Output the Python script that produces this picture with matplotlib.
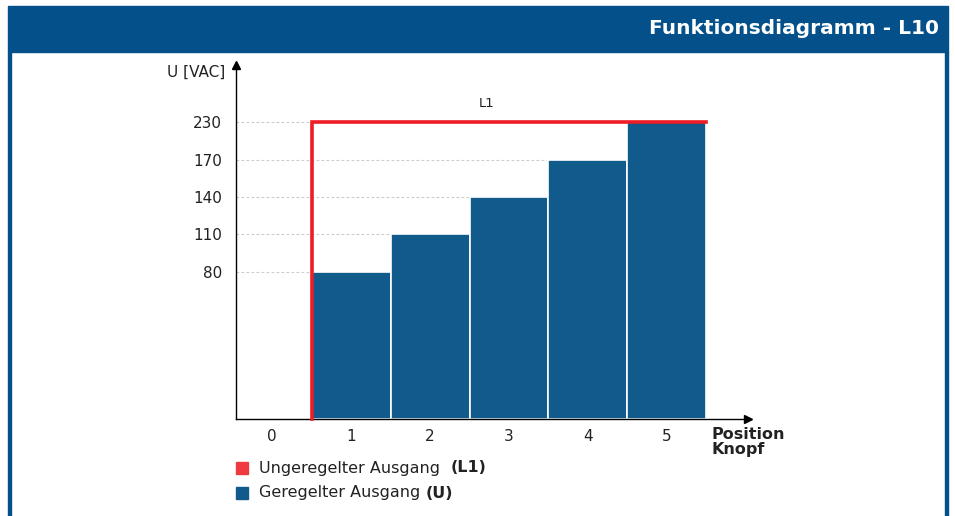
import numpy as np
import matplotlib
matplotlib.use("Agg")
import matplotlib.pyplot as plt
from matplotlib.patches import Rectangle

# Daten
positions = [0, 1, 2, 3, 4, 5]
pos_labels = ["0", "1", "2", "3", "4", "5"]
geregelt = [0, 80, 110, 140, 170, 230]      # U
ungeregelt = [0, 230, 230, 230, 230, 230]   # L1
y_ticks = [80, 110, 140, 170, 230]

blau_header = "#03508a"
blau_balken = "#115b8c"
rot = "#ee1c25"
rot_legende = "#ef3a40"
text_col = "#222222"

W, H = 955, 516
fig = plt.figure(figsize=(W / 100, H / 100), dpi=100)
fig.patch.set_facecolor("white")

def fx(px):
    return px / W

def fy(py):
    return 1 - py / H

# Rahmen + Kopfzeile
fig.patches.append(Rectangle((fx(8), fy(52)), fx(948) - fx(8), fy(6) - fy(52),
                             transform=fig.transFigure, color=blau_header, zorder=0))
fig.patches.append(Rectangle((fx(8), 0), fx(3), fy(52), transform=fig.transFigure,
                             color=blau_header, zorder=0))
fig.patches.append(Rectangle((fx(945), 0), fx(3), fy(52), transform=fig.transFigure,
                             color=blau_header, zorder=0))
fig.text(fx(939), fy(29), "Funktionsdiagramm - L10", color="white", fontsize=14.5,
         fontweight="bold", ha="right", va="center")

# Achsen
ax = fig.add_axes([fx(236), fy(419), fx(748) - fx(236), fy(65) - fy(419)])

# schematische y-Skala: Ticks gleichmaessig ab 80
skala_werte = [0, 80, 110, 140, 170, 230, 290]
skala_pos = [0, 147, 185, 222, 259, 297, 354]

def vorwaerts(v):
    return np.interp(v, skala_werte, skala_pos)

def rueckwaerts(p):
    return np.interp(p, skala_pos, skala_werte)

ax.set_yscale("function", functions=(vorwaerts, rueckwaerts))
ax.set_ylim(0, 290)
ax.set_xlim(-0.46, 6.03)

# Hilfslinien
ax.hlines(y_ticks, -0.46, 5.5, colors="#cccccc", linestyles=(0, (2.5, 2)), linewidth=0.8, zorder=1)

# geregelter Ausgang (Balken)
ax.bar(positions[1:], geregelt[1:], width=1.0, color=blau_balken, edgecolor="white",
       linewidth=1.2, zorder=2)

# ungeregelter Ausgang (L1)
x0 = positions[1] - 0.5
x1 = positions[-1] + 0.5
ax.plot([x0, x0, x1], [0, ungeregelt[1], ungeregelt[-1]], color=rot, linewidth=2.6,
        solid_joinstyle="miter", zorder=3, clip_on=False)
ax.text(2.72, 249, "L1", fontsize=9.5, color=text_col, ha="center", va="center")

for s in ["top", "right"]:
    ax.spines[s].set_visible(False)
for s in ["left", "bottom"]:
    ax.spines[s].set_linewidth(1.0)
    ax.spines[s].set_color("black")
ax.plot(1, 0, ">", color="black", markersize=6, transform=ax.transAxes, clip_on=False)
ax.plot(0, 1, "^", color="black", markersize=6, transform=ax.transAxes, clip_on=False)

ax.set_xticks(positions)
ax.set_xticklabels(pos_labels)
ax.set_yticks(y_ticks)
ax.set_yticklabels([str(v) for v in y_ticks])
ax.minorticks_off()
ax.tick_params(length=0, labelsize=11, colors=text_col)
ax.tick_params(axis="x", pad=7)
ax.tick_params(axis="y", pad=10)

fig.text(fx(225), fy(72), "U [VAC]", fontsize=11, color=text_col, ha="right", va="center")
fig.text(fx(711), fy(442), "Position\nKnopf", fontsize=11.5, fontweight="bold", color=text_col,
         ha="left", va="center", linespacing=1.05)

# Legende
fig.patches.append(Rectangle((fx(236), fy(474)), fx(12), fy(462) - fy(474),
                             transform=fig.transFigure, color=rot_legende))
fig.patches.append(Rectangle((fx(236), fy(499)), fx(12), fy(487) - fy(499),
                             transform=fig.transFigure, color=blau_balken))
t1 = fig.text(fx(259), fy(468), "Ungeregelter Ausgang  ", fontsize=11.5, color=text_col,
              ha="left", va="center")
ax.annotate("(L1)", xy=(1, 0.5), xycoords=t1, fontsize=11.5, fontweight="bold",
            color=text_col, ha="left", va="center", annotation_clip=False)
t2 = fig.text(fx(259), fy(493), "Geregelter Ausgang ", fontsize=11.5, color=text_col,
              ha="left", va="center")
ax.annotate("(U)", xy=(1, 0.5), xycoords=t2, fontsize=11.5, fontweight="bold",
            color=text_col, ha="left", va="center", annotation_clip=False)

fig.savefig("out.png", dpi=100)
